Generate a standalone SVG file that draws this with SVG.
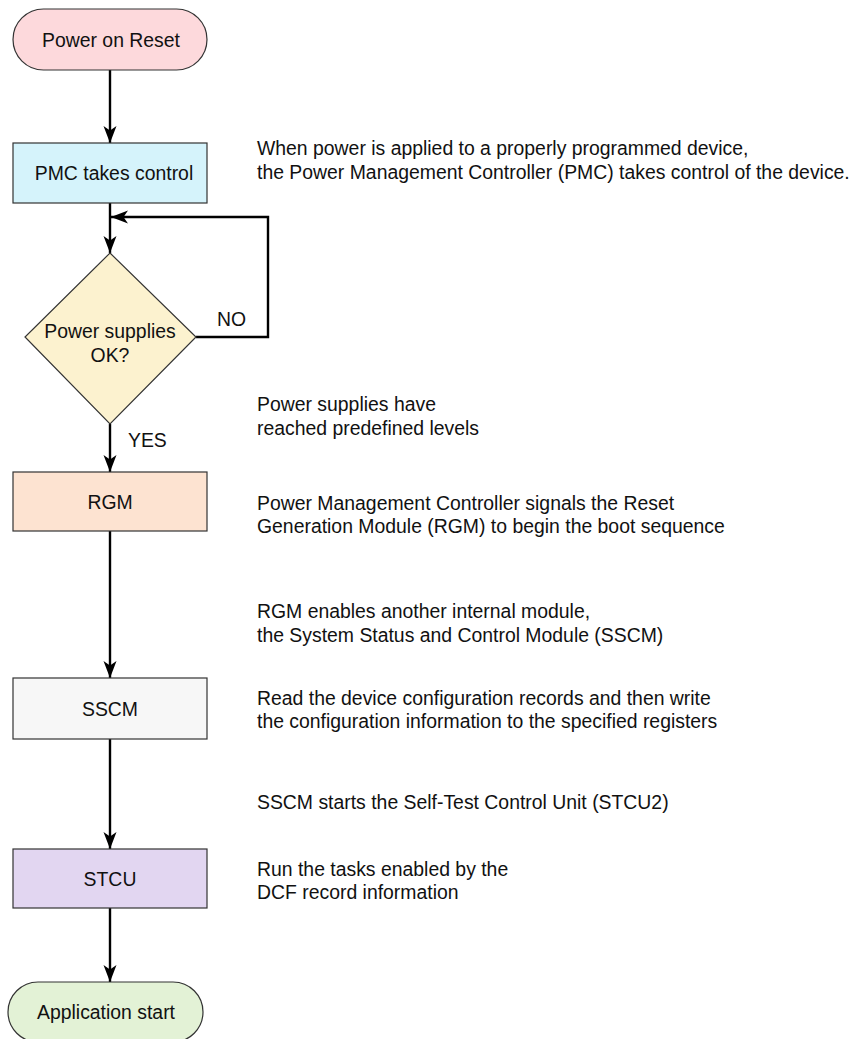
<svg xmlns="http://www.w3.org/2000/svg" width="852" height="1039" viewBox="0 0 852 1039">
<style>
  .node { stroke: #333333; stroke-width: 1.2; }
  .lbl { font-family: "Liberation Sans", Arial, sans-serif; font-size: 19.4px; fill: #111111; text-anchor: middle; }
  .note { font-family: "Liberation Sans", Arial, sans-serif; font-size: 19.4px; fill: #111111; }
  .conn { fill: none; stroke: #000000; stroke-width: 2.4; }
</style>
<defs>
  <marker id="arrow" markerUnits="userSpaceOnUse" markerWidth="20" markerHeight="14" refX="17" refY="6.5" orient="auto">
    <path d="M0,0 L17,6.5 L0,13 L4.5,6.5 z" fill="#000000"/>
  </marker>
</defs>
<rect width="852" height="1039" fill="#ffffff"/>

<g id="connectors">
  <line class="conn" x1="110" y1="70" x2="110" y2="143" marker-end="url(#arrow)"/>
  <line class="conn" x1="110" y1="203" x2="110" y2="253" marker-end="url(#arrow)"/>
  <polyline class="conn" points="196,337 268,337 268,217 111,217" marker-end="url(#arrow)"/>
  <line class="conn" x1="110" y1="424" x2="110" y2="472" marker-end="url(#arrow)"/>
  <line class="conn" x1="110" y1="531" x2="110" y2="678" marker-end="url(#arrow)"/>
  <line class="conn" x1="110" y1="739" x2="110" y2="849" marker-end="url(#arrow)"/>
  <line class="conn" x1="110" y1="908" x2="110" y2="982" marker-end="url(#arrow)"/>
  <text class="note" x="217" y="326">NO</text>
  <text class="note" x="128" y="447">YES</text>
</g>

<g id="power-on-reset">
  <rect class="node" x="13" y="9" width="194" height="61" rx="30.5" fill="#fdd9dc"/>
  <text class="lbl" x="111" y="46.5">Power on Reset</text>
</g>

<g id="pmc">
  <rect class="node" x="13" y="143" width="194" height="60" fill="#d5f3fb"/>
  <text class="lbl" x="114" y="180">PMC takes control</text>
</g>

<g id="power-check">
  <polygon class="node" points="110,253 196,337 110,424 25,337" fill="#fcf2cf"/>
  <text class="lbl" x="110" y="338">Power supplies</text>
  <text class="lbl" x="110" y="362">OK?</text>
</g>

<g id="rgm">
  <rect class="node" x="13" y="472" width="194" height="59" fill="#fde3d1"/>
  <text class="lbl" x="110" y="508.5">RGM</text>
</g>

<g id="sscm">
  <rect class="node" x="13" y="678" width="194" height="61" fill="#f7f7f7"/>
  <text class="lbl" x="110" y="715.5">SSCM</text>
</g>

<g id="stcu">
  <rect class="node" x="13" y="849" width="194" height="59" fill="#e2d6f1"/>
  <text class="lbl" x="110" y="885.5">STCU</text>
</g>

<g id="application-start">
  <rect class="node" x="8" y="982" width="195" height="60" rx="30" fill="#e3f2d6"/>
  <text class="lbl" x="106" y="1018.5">Application start</text>
</g>

<g id="notes">
  <text class="note" x="257" y="155">When power is applied to a properly programmed device,</text>
  <text class="note" x="257" y="179">the Power Management Controller (PMC) takes control of the device.</text>
  <text class="note" x="257" y="411">Power supplies have</text>
  <text class="note" x="257" y="435">reached predefined levels</text>
  <text class="note" x="257" y="510">Power Management Controller signals the Reset</text>
  <text class="note" x="257" y="533">Generation Module (RGM) to begin the boot sequence</text>
  <text class="note" x="257" y="618">RGM enables another internal module,</text>
  <text class="note" x="257" y="642">the System Status and Control Module (SSCM)</text>
  <text class="note" x="257" y="705">Read the device configuration records and then write</text>
  <text class="note" x="257" y="728">the configuration information to the specified registers</text>
  <text class="note" x="257" y="809">SSCM starts the Self-Test Control Unit (STCU2)</text>
  <text class="note" x="257" y="876">Run the tasks enabled by the</text>
  <text class="note" x="257" y="899">DCF record information</text>
</g>
</svg>
